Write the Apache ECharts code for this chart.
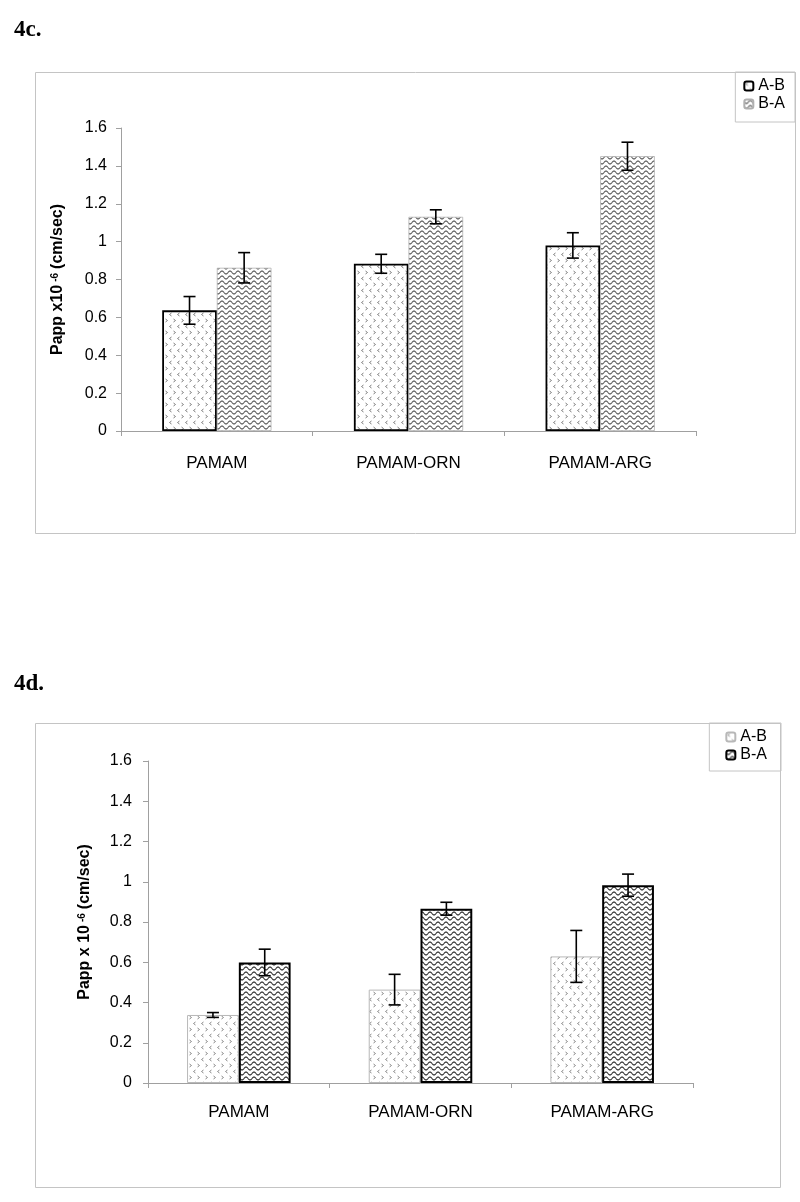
<!DOCTYPE html>
<html>
<head>
<meta charset="utf-8">
<script src="https://cdn.jsdelivr.net/npm/echarts@6/dist/echarts.min.js"></script>
<style>
html,body{margin:0;padding:0;background:#fff;}
#c1,#c2{position:absolute;left:0;width:800px;height:601px;}
#c1{top:0;} #c2{top:601px;}
</style>
</head>
<body>
<div id="c1"></div>
<div id="c2"></div>
<script>
// ---- data ----
const categories = ['PAMAM', 'PAMAM-ORN', 'PAMAM-ARG'];
const yTicks = [0, 0.2, 0.4, 0.6, 0.8, 1, 1.2, 1.4, 1.6];
// Figure 4c
const c_AB = [0.637, 0.883, 0.98];
const c_AB_err = [0.073, 0.05, 0.067];
const c_BA = [0.862, 1.131, 1.451];
const c_BA_err = [0.08, 0.037, 0.074];
// Figure 4d
const d_AB = [0.338, 0.464, 0.629];
const d_AB_err = [0.012, 0.076, 0.129];
const d_BA = [0.599, 0.866, 0.983];
const d_BA_err = [0.066, 0.032, 0.055];

const FONT = '"Liberation Sans", Arial, sans-serif';

function chevronPattern(color) {
  const c = document.createElement('canvas');
  c.width = 8; c.height = 12;
  const g = c.getContext('2d');
  g.fillStyle = '#fff'; g.fillRect(0, 0, 8, 12);
  g.strokeStyle = color; g.lineWidth = 1;
  g.beginPath();
  g.moveTo(3.5, 1); g.lineTo(1.5, 2.5); g.lineTo(3.5, 4);
  g.moveTo(5.5, 7); g.lineTo(7.5, 8.5); g.lineTo(5.5, 10);
  g.stroke();
  return c;
}
function wavePattern(color) {
  const c = document.createElement('canvas');
  c.width = 8; c.height = 5;
  const g = c.getContext('2d');
  g.fillStyle = '#fff'; g.fillRect(0, 0, 8, 5);
  g.strokeStyle = color; g.lineWidth = 1.1;
  g.beginPath();
  for (let x = -1; x <= 9; x += 0.5) {
    const y = 2.5 + 1.5 * Math.sin(2 * Math.PI * x / 8);
    if (x === -1) g.moveTo(x, y); else g.lineTo(x, y);
  }
  g.stroke();
  return c;
}

function errSeries(name, vals, errs, side, gap) {
  return {
    type: 'custom', name: name, silent: true, z: 10,
    data: vals.map((v, i) => [i, v, errs[i]]),
    encode: { x: 0, y: 1 },
    renderItem: function (params, api) {
      const i = api.value(0), v = api.value(1), e = api.value(2);
      const band = api.size([1, 0])[0];
      const bw = band * (1 - gap) / 2;
      const x = api.coord([i, v])[0] + side * bw / 2;
      const yT = api.coord([i, v + e])[1];
      const yB = api.coord([i, v - e])[1];
      const st = { stroke: '#000', lineWidth: 1.6 };
      return {
        type: 'group', children: [
          { type: 'line', shape: { x1: x, y1: yT, x2: x, y2: yB }, style: st },
          { type: 'line', shape: { x1: x - 6, y1: yT, x2: x + 6, y2: yT }, style: st },
          { type: 'line', shape: { x1: x - 6, y1: yB, x2: x + 6, y2: yB }, style: st }
        ]
      };
    }
  };
}

function makeOption(cfg) {
  const gap = cfg.gap;
  return {
    animation: false,
    backgroundColor: '#fff',
    graphic: [
      { type: 'rect', shape: cfg.frame, style: { fill: 'none', stroke: '#c4c4c4', lineWidth: 1 }, z: -1 },
      { type: 'text', left: 14, top: cfg.titleTop, style: { text: cfg.title, font: 'bold 23px "Liberation Serif", "Times New Roman", serif', fill: '#000' } }
    ],
    legend: {
      orient: 'vertical', right: cfg.legendRight, top: cfg.legendTop,
      itemWidth: 9, itemHeight: 9, itemGap: 2,
      borderColor: '#c4c4c4', borderWidth: 1, borderRadius: 0,
      padding: cfg.legendPad,
      textStyle: { fontSize: 16, fontFamily: FONT, color: '#000' },
      data: ['A-B', 'B-A']
    },
    grid: cfg.grid,
    xAxis: {
      type: 'category', data: categories,
      axisLine: { lineStyle: { color: '#a0a0a0', width: 1 } },
      axisTick: { show: true, length: 5, lineStyle: { color: '#a0a0a0' } },
      axisLabel: { fontSize: 17, fontFamily: FONT, color: '#000', margin: cfg.xMargin },
      splitLine: { show: false }
    },
    yAxis: {
      type: 'value', min: yTicks[0], max: yTicks[yTicks.length - 1], interval: 0.2,
      axisLine: { show: true, lineStyle: { color: '#a0a0a0', width: 1 } },
      axisTick: { show: true, length: 5, lineStyle: { color: '#a0a0a0' } },
      axisLabel: { fontSize: 16, fontFamily: FONT, color: '#000', margin: cfg.yMargin },
      splitLine: { show: false },
      name: cfg.yName, nameLocation: 'middle', nameRotate: 90, nameGap: cfg.nameGap,
      nameTextStyle: {
        rich: {
          a: { fontSize: 16, fontWeight: 'bold', fontFamily: FONT, color: '#000' },
          s: { fontSize: 10, fontWeight: 'bold', fontFamily: FONT, color: '#000', verticalAlign: 'top', padding: [0, 4, 0, 3] }
        }
      }
    },
    series: [
      { type: 'bar', name: 'A-B', data: cfg.ab, barGap: '0%', barCategoryGap: (gap * 100) + '%',
        itemStyle: cfg.abStyle },
      { type: 'bar', name: 'B-A', data: cfg.ba, barGap: '0%', barCategoryGap: (gap * 100) + '%',
        itemStyle: cfg.baStyle },
      errSeries('errAB', cfg.ab, cfg.abErr, -1, gap),
      errSeries('errBA', cfg.ba, cfg.baErr, 1, gap)
    ]
  };
}

const ch1 = echarts.init(document.getElementById('c1'), null, { renderer: 'canvas' });
ch1.setOption(makeOption({
  title: '4c.', titleTop: 19,
  frame: { x: 35.5, y: 72.5, width: 760, height: 461 },
  legendRight: 5, legendTop: 72, legendPad: [6, 10, 10, 8],
  grid: { left: 121, right: 104, top: 128, bottom: 170 },
  gap: 0.43, xMargin: 24, yMargin: 14, nameGap: 55,
  yName: '{a|Papp x10}{s|-6}{a|(cm/sec)}',
  ab: c_AB, abErr: c_AB_err, ba: c_BA, baErr: c_BA_err,
  abStyle: { color: { image: chevronPattern('#808080'), repeat: 'repeat' }, borderColor: '#000', borderWidth: 1.8 },
  baStyle: { color: { image: wavePattern('#5e5e5e'), repeat: 'repeat' }, borderColor: '#b0b0b0', borderWidth: 0.8 }
}));

const ch2 = echarts.init(document.getElementById('c2'), null, { renderer: 'canvas' });
ch2.setOption(makeOption({
  title: '4d.', titleTop: 72,
  frame: { x: 35.5, y: 122.5, width: 745, height: 464 },
  legendRight: 19, legendTop: 122, legendPad: [6, 14, 8, 16],
  grid: { left: 148, right: 107, top: 160, bottom: 119 },
  gap: 0.43, xMargin: 21, yMargin: 16, nameGap: 55,
  yName: '{a|Papp x 10}{s|-6}{a|(cm/sec)}',
  ab: d_AB, abErr: d_AB_err, ba: d_BA, baErr: d_BA_err,
  abStyle: { color: { image: chevronPattern('#8a8a8a'), repeat: 'repeat' }, borderColor: '#b8b8b8', borderWidth: 1 },
  baStyle: { color: { image: wavePattern('#333333'), repeat: 'repeat' }, borderColor: '#000', borderWidth: 2 }
}));
</script>
</body>
</html>
